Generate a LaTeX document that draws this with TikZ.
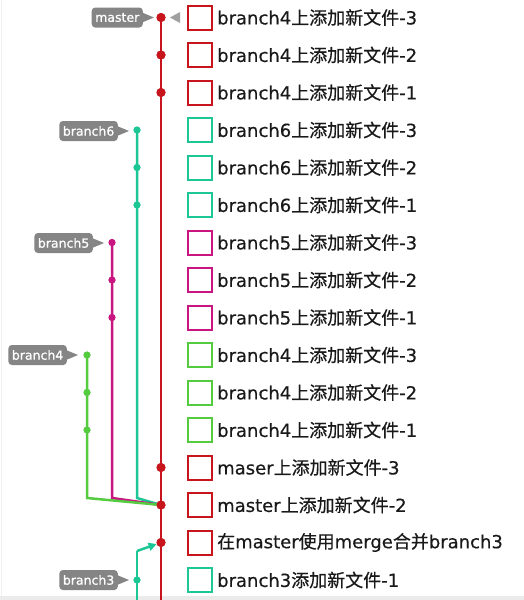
\documentclass[tikz,border=0pt]{standalone}
\usepackage{fontspec}
\setmainfont{Noto Sans CJK SC}[FakeBold=0.4]
\newfontfamily\lat{DejaVu Sans}
\newfontfamily\latb{DejaVu Sans}[FakeBold=0.4]
\newfontfamily\latl{DejaVu Sans}[FakeBold=0.8]
\usetikzlibrary{arrows.meta}
\definecolor{cred}{HTML}{C8141C}
\definecolor{cteal}{HTML}{1DC795}
\definecolor{cmag}{HTML}{C8157F}
\definecolor{cgreen}{HTML}{55CC3F}
\definecolor{lblgray}{HTML}{858585}
\definecolor{headgray}{HTML}{A0A0A0}
\tikzset{
  rowbox/.style={draw, line width=2pt, minimum size=24pt, inner sep=0pt},
  rowtext/.style={anchor=west, inner sep=0pt, font=\fontsize{18}{18}\selectfont, text=black!90},
  cdot/.style={circle, inner sep=0pt, minimum size=9pt},
  bdot/.style={circle, inner sep=0pt, minimum size=7pt},
  lbl/.style={fill=lblgray, text=white, rounded corners=3.5pt, font=\latl\fontsize{12.5}{12.5}\selectfont,
    inner xsep=3.5pt, inner ysep=0pt, minimum height=20pt, anchor=east},
  br/.style={line width=2.5pt},
}
\newcommand\gitrow[3]{%
  \node[rowbox, draw=#2] (box#1) at (200,{17.5+37.5*(#1-1)}) {};
  \node[rowtext] (txt#1) at (217,{17.5+37.5*(#1-1)}) {#3};
}
\newcommand\branchlabel[3]{%
  \node[lbl] (#1) at (#2) {#3};
  \fill[lblgray] ([xshift=-1pt,yshift=5pt]#1.east) -- ([xshift=11pt]#1.east) -- ([xshift=-1pt,yshift=-5pt]#1.east) -- cycle;
}
\begin{document}
\begin{tikzpicture}[x=1pt,y=-1pt]
\useasboundingbox (0,0) rectangle (524,600);
\fill[white] (0,0) rectangle (524,600);
\fill[black!8] (0,596) rectangle (524,600);
\draw[black!6, line width=1pt] (1,0) -- (1,596);

% rows
\gitrow{1}{cred}{{\latb branch4}上添加新文件{\latb -3}}
\gitrow{2}{cred}{{\latb branch4}上添加新文件{\latb -2}}
\gitrow{3}{cred}{{\latb branch4}上添加新文件{\latb -1}}
\gitrow{4}{cteal}{{\latb branch6}上添加新文件{\latb -3}}
\gitrow{5}{cteal}{{\latb branch6}上添加新文件{\latb -2}}
\gitrow{6}{cteal}{{\latb branch6}上添加新文件{\latb -1}}
\gitrow{7}{cmag}{{\latb branch5}上添加新文件{\latb -3}}
\gitrow{8}{cmag}{{\latb branch5}上添加新文件{\latb -2}}
\gitrow{9}{cmag}{{\latb branch5}上添加新文件{\latb -1}}
\gitrow{10}{cgreen}{{\latb branch4}上添加新文件{\latb -3}}
\gitrow{11}{cgreen}{{\latb branch4}上添加新文件{\latb -2}}
\gitrow{12}{cgreen}{{\latb branch4}上添加新文件{\latb -1}}
\gitrow{13}{cred}{{\latb maser}上添加新文件{\latb -3}}
\gitrow{14}{cred}{{\latb master}上添加新文件{\latb -2}}
\gitrow{15}{cred}{在{\latb master}使用{\latb merge}合并{\latb branch3}}
\gitrow{16}{cteal}{{\latb branch3}添加新文件{\latb -1}}

% coordinates
\coordinate (mend) at (161,600);
\coordinate (k6) at (137,498);
\coordinate (k5) at (112,498);
\coordinate (k4) at (87,498);
\coordinate (b3bot) at (137,600);
\coordinate (b3turn) at (137,551);

% commit dots (nodes)
\node[cdot, fill=cred] (m1) at (161,17.5) {};
\node[cdot, fill=cred] (m2) at (161,55) {};
\node[cdot, fill=cred] (m3) at (161,92.5) {};
\node[cdot, fill=cred] (m13) at (161,467.5) {};
\node[cdot, fill=cred] (m14) at (161,505) {};
\node[cdot, fill=cred] (m15) at (161,542.5) {};
\node[bdot, fill=cteal] (s6a) at (137,130) {};
\node[bdot, fill=cteal] (s6b) at (137,167.5) {};
\node[bdot, fill=cteal] (s6c) at (137,205) {};
\node[bdot, fill=cmag] (s5a) at (112,242.5) {};
\node[bdot, fill=cmag] (s5b) at (112,280) {};
\node[bdot, fill=cmag] (s5c) at (112,317.5) {};
\node[bdot, fill=cgreen] (s4a) at (87,355) {};
\node[bdot, fill=cgreen] (s4b) at (87,392.5) {};
\node[bdot, fill=cgreen] (s4c) at (87,430) {};
\node[bdot, fill=cteal] (s3a) at (137,580) {};

% lines
\draw[br, cred] (m1.center) -- (mend);
\draw[br, cteal] (s6a.center) -- (k6) -- (m14.center);
\draw[br, cmag] (s5a.center) -- (k5) -- (m14.center);
\draw[br, cgreen] (s4a.center) -- (k4) -- (m14.center);
\draw[br, cteal] (b3bot) -- (b3turn);
\draw[br, cteal, -{Triangle[length=8pt,width=8pt]}] (b3turn) -- (m15);

% redraw dots on top
\foreach \n/\c in {m1/cred,m2/cred,m3/cred,m13/cred,m14/cred,m15/cred}
  \fill[\c] (\n) circle (4.5pt);
\foreach \n/\c in {s6a/cteal,s6b/cteal,s6c/cteal,s5a/cmag,s5b/cmag,s5c/cmag,s4a/cgreen,s4b/cgreen,s4c/cgreen,s3a/cteal}
  \fill[\c] (\n) circle (3.5pt);

% HEAD marker
\fill[headgray] (170,17.5) -- (180,12) -- (180,23) -- cycle;

% labels
\branchlabel{lmaster}{143,17.5}{master}
\branchlabel{lb6}{118,131}{branch6}
\branchlabel{lb5}{93,243}{branch5}
\branchlabel{lb4}{67,355}{branch4}
\branchlabel{lb3}{118,580}{branch3}
\end{tikzpicture}
\end{document}
